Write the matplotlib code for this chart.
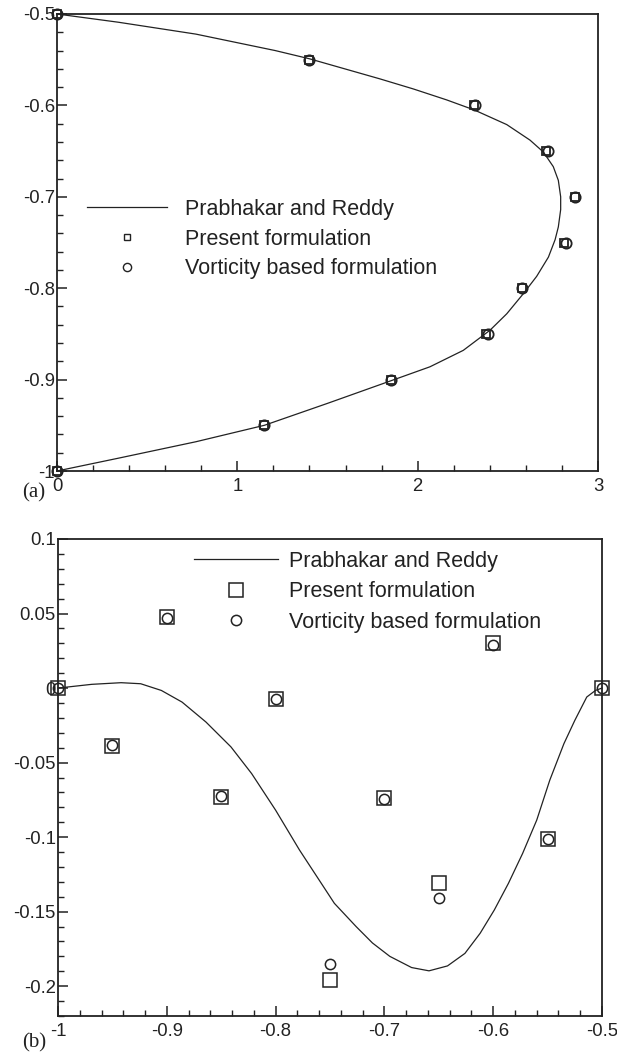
import matplotlib
matplotlib.use("Agg")
import matplotlib.pyplot as plt
from matplotlib.ticker import MultipleLocator, FuncFormatter

plt.rcParams['font.family'] = ['Liberation Sans', 'DejaVu Sans']

# ---------------- Panel (a) data ----------------
a_curve_x = [0.0, 0.34, 0.77, 1.21, 1.40, 1.791, 1.976, 2.161, 2.314, 2.494,
             2.623, 2.697, 2.752, 2.780, 2.793, 2.793, 2.780, 2.762, 2.725, 2.660,
             2.586, 2.494, 2.401, 2.253, 2.068, 1.884, 1.50, 1.15, 0.77, 0.34, 0.0]
a_curve_y = [-0.5, -0.509, -0.522, -0.540, -0.549, -0.571, -0.582, -0.594, -0.605, -0.621,
             -0.638, -0.651, -0.667, -0.682, -0.700, -0.714, -0.733, -0.747, -0.766, -0.787,
             -0.806, -0.828, -0.846, -0.868, -0.886, -0.899, -0.926, -0.950, -0.968, -0.986, -1.0]
a_y = [-0.5, -0.55, -0.6, -0.65, -0.7, -0.75, -0.8, -0.85, -0.9, -0.95, -1.0]
a_present = [0.0, 1.40, 2.31, 2.71, 2.87, 2.81, 2.58, 2.38, 1.85, 1.15, 0.0]
a_vorticity = [0.0, 1.40, 2.32, 2.72, 2.87, 2.82, 2.58, 2.39, 1.85, 1.15, 0.0]

# ---------------- Panel (b) data ----------------
b_curve_x = [-1.0, -0.969, -0.942, -0.924, -0.905, -0.886, -0.864, -0.841, -0.822, -0.800,
             -0.778, -0.758, -0.746, -0.726, -0.711, -0.695, -0.675, -0.659, -0.642, -0.626,
             -0.612, -0.599, -0.586, -0.573, -0.560, -0.548, -0.535, -0.525, -0.514, -0.506, -0.5]
b_curve_y = [0.0, 0.0025, 0.0036, 0.0029, -0.0016, -0.0094, -0.0228, -0.0395, -0.0574, -0.0819,
             -0.1087, -0.131, -0.1444, -0.160, -0.171, -0.180, -0.1875, -0.1897, -0.1864, -0.178,
             -0.1645, -0.1489, -0.131, -0.111, -0.0886, -0.0618, -0.0373, -0.0217, -0.006, -0.0016, 0.0]
b_x = [-1.0, -0.95, -0.9, -0.85, -0.8, -0.75, -0.7, -0.65, -0.6, -0.55, -0.5]
b_present = [0.0, -0.0387, 0.0478, -0.0732, -0.0075, -0.1956, -0.0737, -0.131, 0.0302, -0.101, 0.0]
b_vorticity = [0.0, -0.0385, 0.0467, -0.0723, -0.0075, -0.1853, -0.0741, -0.141, 0.0292, -0.101, 0.0]

labels = ["Prabhakar and Reddy", "Present formulation", "Vorticity based formulation"]

W, H = 617, 1054
fig = plt.figure(figsize=(W / 100, H / 100), dpi=100)
INK = '#222222'


def fig_rect(l, t, r, b):
    return [l / W, 1 - b / H, (r - l) / W, (b - t) / H]


def style_axes(ax):
    for s in ax.spines.values():
        s.set_linewidth(1.3)
        s.set_color(INK)
    ax.tick_params(which='both', direction='in', top=False, right=False,
                   colors=INK, labelcolor=INK, labelsize=13.3)
    ax.tick_params(which='major', length=7.5, width=1.1)
    ax.tick_params(which='minor', length=4.5, width=1.0)
    ax.tick_params(axis='y', pad=1.5)
    ax.tick_params(axis='x', pad=5)


def fmt(v, pos):
    s = ('%.2f' % v).rstrip('0').rstrip('.')
    if s in ('-0', ''):
        s = '0'
    return s


# ---------------- Axes (a) ----------------
ax1 = fig.add_axes(fig_rect(57, 14, 598, 471))
ax1.plot(a_curve_x, a_curve_y, color=INK, lw=0.9, label=labels[0])
ax1.plot(a_present, a_y, ls='none', marker='s', ms=5.8, mfc='none', mec=INK, mew=1.3, label=labels[1])
ax1.plot(a_vorticity, a_y, ls='none', marker='o', ms=7.4, mfc='none', mec=INK, mew=1.3, label=labels[2])
ax1.set_xlim(0, 3)
ax1.set_ylim(-1.0, -0.5)
ax1.xaxis.set_major_locator(MultipleLocator(1))
ax1.xaxis.set_minor_locator(MultipleLocator(0.2))
ax1.yaxis.set_major_locator(MultipleLocator(0.1))
ax1.yaxis.set_minor_locator(MultipleLocator(0.02))
ax1.xaxis.set_major_formatter(FuncFormatter(fmt))
ax1.yaxis.set_major_formatter(FuncFormatter(fmt))
style_axes(ax1)
for line in ax1.lines:
    line.set_clip_on(False)
leg1 = ax1.legend(loc='upper left', bbox_to_anchor=((87 - 57) / 541, 1 - (199 - 14) / 457),
                  frameon=False, fontsize=15.5, handlelength=3.7, handletextpad=0.84,
                  labelspacing=0.40, borderaxespad=0, borderpad=0, markerscale=0.8)
for t in leg1.get_texts():
    t.set_color(INK)
for h in leg1.legend_handles:
    try:
        h.set_markeredgewidth(1.0)
    except AttributeError:
        pass
fig.text(22 / W, 1 - 493 / H, "(a)", family=['Liberation Serif', 'DejaVu Serif'],
         fontsize=15, color=INK, ha='left', va='center')

# ---------------- Axes (b) ----------------
ax2 = fig.add_axes(fig_rect(58, 539, 602, 1016))
ax2.plot(b_curve_x, b_curve_y, color=INK, lw=0.9, label=labels[0])
ax2.plot(b_x, b_present, ls='none', marker='s', ms=10.0, mfc='none', mec=INK, mew=1.1, label=labels[1])
ax2.plot(b_x, b_vorticity, ls='none', marker='o', ms=7.4, mfc='none', mec=INK, mew=1.1, label=labels[2])
ax2.set_xlim(-1.0, -0.5)
ax2.set_ylim(-0.22, 0.1)
ax2.xaxis.set_major_locator(MultipleLocator(0.1))
ax2.xaxis.set_minor_locator(MultipleLocator(0.02))
ax2.yaxis.set_major_locator(MultipleLocator(0.05))
ax2.yaxis.set_minor_locator(MultipleLocator(0.01))
ax2.xaxis.set_major_formatter(FuncFormatter(fmt))
ax2.yaxis.set_major_formatter(FuncFormatter(fmt))
style_axes(ax2)
for line in ax2.lines:
    line.set_clip_on(False)
leg2 = ax2.legend(loc='upper left', bbox_to_anchor=((194 - 58) / 544, 1 - (551 - 539) / 477),
                  frameon=False, fontsize=15.5, handlelength=3.88, handletextpad=0.53,
                  labelspacing=0.44, borderaxespad=0, borderpad=0)
for t in leg2.get_texts():
    t.set_color(INK)
fig.text(22 / W, 1 - 1043 / H, "(b)", family=['Liberation Serif', 'DejaVu Serif'],
         fontsize=15, color=INK, ha='left', va='center')

fig.savefig("out.png", dpi=100)
